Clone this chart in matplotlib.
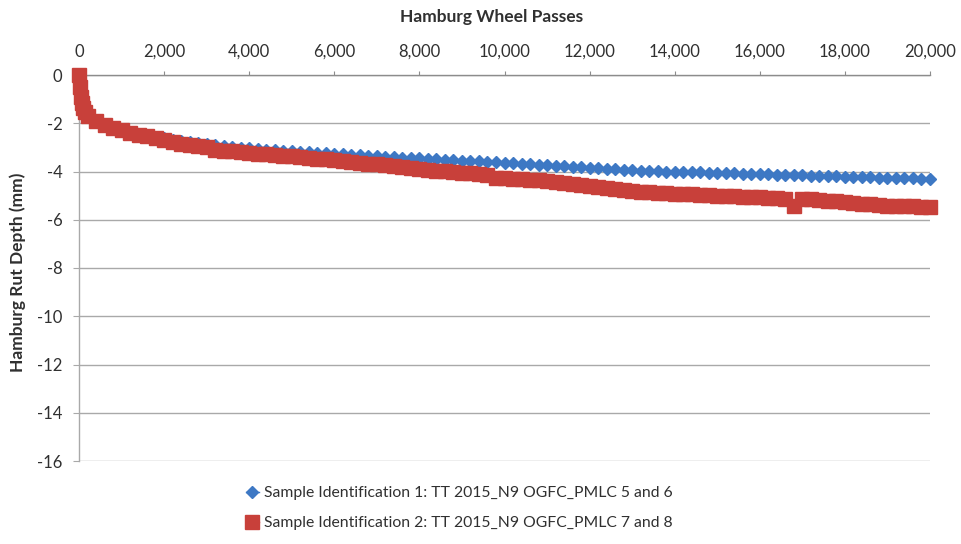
import matplotlib
matplotlib.use("Agg")
import matplotlib.pyplot as plt
from matplotlib.ticker import FuncFormatter, MultipleLocator

plt.rcParams["font.family"] = ["Lato", "DejaVu Sans"]

# Wheel passes at which rut depth was recorded
early_passes = [0, 25, 50, 75, 100, 150]
passes = early_passes + list(range(200, 20001, 200))

# Rut depth (mm), sample 1 (PMLC 5 and 6)
rut_sample1 = [
    0.00, -0.45, -0.80, -1.05, -1.25, -1.45,
    -1.58, -1.85, -2.02, -2.15, -2.26, -2.35, -2.43, -2.50, -2.57, -2.63,
    -2.69, -2.75, -2.79, -2.83, -2.87, -2.91, -2.94, -2.98, -3.01, -3.04,
    -3.06, -3.09, -3.11, -3.14, -3.16, -3.18, -3.20, -3.23, -3.25, -3.27,
    -3.29, -3.31, -3.33, -3.35, -3.37, -3.38, -3.40, -3.42, -3.44, -3.46,
    -3.48, -3.49, -3.51, -3.53, -3.55, -3.57, -3.58, -3.60, -3.62, -3.64,
    -3.66, -3.68, -3.70, -3.72, -3.74, -3.76, -3.78, -3.80, -3.82, -3.84,
    -3.86, -3.88, -3.90, -3.92, -3.94, -3.96, -3.97, -3.98, -4.00, -4.01,
    -4.02, -4.03, -4.04, -4.05, -4.06, -4.07, -4.08, -4.09, -4.10, -4.11,
    -4.12, -4.13, -4.14, -4.15, -4.16, -4.17, -4.18, -4.19, -4.20, -4.21,
    -4.22, -4.23, -4.24, -4.25, -4.26, -4.27, -4.28, -4.29, -4.30, -4.31,
]

# Rut depth (mm), sample 2 (PMLC 7 and 8)
rut_sample2 = [
    0.00, -0.50, -0.90, -1.15, -1.35, -1.55,
    -1.68, -1.92, -2.07, -2.20, -2.30, -2.39, -2.47, -2.54, -2.61, -2.68,
    -2.76, -2.85, -2.90, -2.95, -3.00, -3.12, -3.14, -3.17, -3.20, -3.23,
    -3.26, -3.29, -3.31, -3.34, -3.37, -3.40, -3.43, -3.47, -3.50, -3.53,
    -3.57, -3.60, -3.63, -3.67, -3.70, -3.74, -3.78, -3.82, -3.86, -3.90,
    -3.93, -3.96, -3.99, -4.02, -4.05, -4.08, -4.11, -4.14, -4.28, -4.29,
    -4.31, -4.33, -4.35, -4.37, -4.41, -4.45, -4.49, -4.53, -4.57, -4.61,
    -4.65, -4.69, -4.73, -4.77, -4.81, -4.84, -4.86, -4.88, -4.90, -4.92,
    -4.94, -4.95, -4.97, -4.98, -5.00, -5.01, -5.03, -5.04, -5.06, -5.07,
    -5.09, -5.10, -5.12, -5.45, -5.14, -5.16, -5.18, -5.21, -5.24, -5.27,
    -5.30, -5.33, -5.36, -5.39, -5.41, -5.43, -5.44, -5.45, -5.46, -5.47,
]

labels = [
    "Sample Identification 1: TT 2015_N9 OGFC_PMLC 5 and 6",
    "Sample Identification 2: TT 2015_N9 OGFC_PMLC 7 and 8",
]
blue = "#3D78C4"
red = "#C8403A"
grid_gray = "#A9A9A9"
text_color = "#303030"

W, H = 961, 544
fig = plt.figure(figsize=(W / 100, H / 100), dpi=100)
ax = fig.add_axes([79 / W, 1 - 461 / H, (930 - 79) / W, (461 - 75) / H])

ax.plot(passes, rut_sample1, color=blue, lw=1.0, marker="D", ms=6.5,
        mec=blue, mfc=blue, clip_on=False, zorder=3, label=labels[0])
ax.plot(passes, rut_sample2, color=red, lw=1.0, marker="s", ms=10,
        mec=red, mfc=red, clip_on=False, zorder=4, label=labels[1])

ax.set_xlim(0, 20000)
ax.set_ylim(-16, 0)
ax.xaxis.set_major_locator(MultipleLocator(2000))
ax.yaxis.set_major_locator(MultipleLocator(2))
ax.xaxis.set_major_formatter(FuncFormatter(lambda v, p: f"{int(v):,}"))
ax.yaxis.set_major_formatter(FuncFormatter(lambda v, p: f"{int(v)}"))
ax.xaxis.tick_top()

ax.grid(axis="y", color=grid_gray, lw=1.0, zorder=0)
ax.grid(axis="x", visible=False)
for side in ("right", "bottom"):
    ax.spines[side].set_visible(False)
ax.spines["top"].set_color("#8C8C8C")
ax.spines["top"].set_linewidth(1.0)
ax.spines["left"].set_color(grid_gray)
ax.spines["left"].set_linewidth(1.0)

ax.tick_params(axis="x", direction="out", length=3, color="#8C8C8C",
               labelsize=12, labelcolor=text_color, pad=8)
ax.tick_params(axis="y", direction="out", length=4, color=grid_gray,
               labelsize=12, labelcolor=text_color, pad=8)

fig.text(492 / W, 1 - 17 / H, "Hamburg Wheel Passes", ha="center", va="center",
         fontsize=12.5, fontweight="bold", color=text_color)
fig.text(18 / W, 1 - 272 / H, "Hamburg Rut Depth (mm)", ha="center",
         va="center", rotation=90, fontsize=12.5, fontweight="bold",
         color=text_color)

fig.legend(loc="upper left", bbox_to_anchor=(246 / W, 1 - 486 / H),
           frameon=False, fontsize=11.3, handlelength=0.8, handletextpad=0.35,
           labelspacing=1.05, markerscale=1.0, labelcolor=text_color,
           borderaxespad=0, borderpad=0)

fig.savefig("out.png", dpi=100)
